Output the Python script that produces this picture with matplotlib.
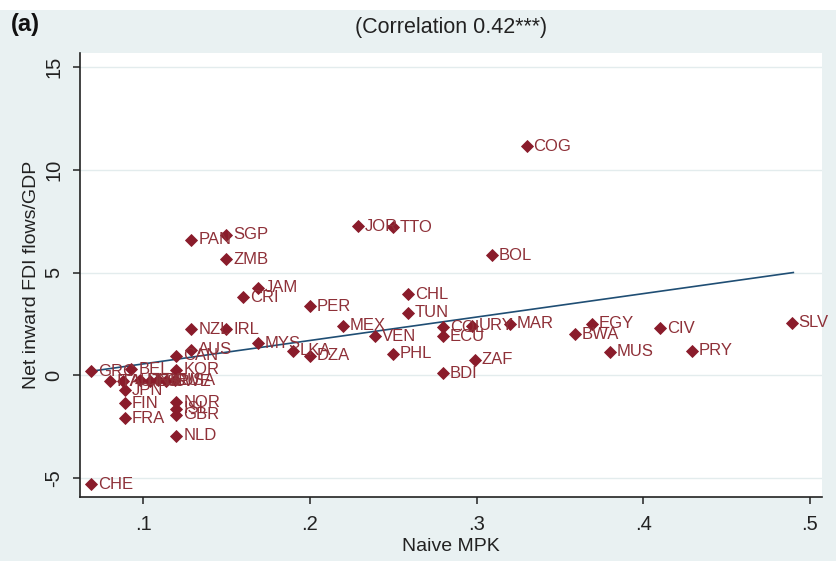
import matplotlib
matplotlib.use("Agg")
import matplotlib.pyplot as plt
from matplotlib.patches import Rectangle

# ---------------- data ----------------
countries = ["CHE", "GRC", "ITA", "AUT", "JPN", "FIN", "FRA", "BEL", "DNK", "ESP",
             "DEU", "SWE", "USA", "KOR", "CAN", "AUS", "NZL", "IRL", "NOR", "ISL",
             "GBR", "NLD", "PAN", "SGP", "ZMB", "CRI", "JAM", "MYS", "LKA", "DZA",
             "PER", "MEX", "VEN", "JOR", "TTO", "PHL", "CHL", "TUN", "COL", "ECU",
             "BDI", "URY", "ZAF", "BOL", "COG", "MAR", "BWA", "EGY", "MUS", "CIV",
             "PRY", "SLV"]
naive_mpk = [0.069, 0.069, 0.080, 0.088, 0.089, 0.089, 0.089, 0.093, 0.098, 0.104,
             0.109, 0.114, 0.119, 0.120, 0.120, 0.129, 0.129, 0.150, 0.120, 0.120,
             0.120, 0.120, 0.129, 0.150, 0.150, 0.160, 0.169, 0.169, 0.190, 0.200,
             0.200, 0.220, 0.239, 0.229, 0.250, 0.250, 0.259, 0.259, 0.280, 0.280,
             0.280, 0.297, 0.299, 0.309, 0.330, 0.320, 0.359, 0.369, 0.380, 0.410,
             0.429, 0.489]
fdi_gdp = [-5.30, 0.19, -0.30, -0.28, -0.72, -1.35, -2.10, 0.30, -0.25, -0.30,
           -0.24, -0.30, -0.25, 0.28, 0.95, 1.25, 2.25, 2.25, -1.30, -1.62,
           -1.92, -2.95, 6.60, 6.85, 5.65, 3.80, 4.25, 1.55, 1.20, 0.95,
           3.35, 2.40, 1.90, 7.25, 7.20, 1.05, 3.95, 3.05, 2.35, 1.90,
           0.10, 2.40, 0.75, 5.85, 11.15, 2.50, 2.00, 2.50, 1.15, 2.30,
           1.20, 2.55]

# fitted line end points
fit_x = [0.069, 0.490]
fit_y = [0.20, 5.00]

x_ticks = [0.1, 0.2, 0.3, 0.4, 0.5]
x_tick_labels = [".1", ".2", ".3", ".4", ".5"]
y_ticks = [-5, 0, 5, 10, 15]
y_tick_labels = ["-5", "0", "5", "10", "15"]

title_text = "(Correlation 0.42***)"
panel_text = "(a)"
x_label = "Naive MPK"
y_label = "Net inward FDI flows/GDP"

# ---------------- style ----------------
BG = "#e9f1f2"
MARKER = "#8a1c2b"
LABEL = "#8e3038"
LINE = "#1f4e74"
FONT = ["Liberation Sans", "DejaVu Sans"]
plt.rcParams["font.family"] = FONT

W, H = 836, 561
fig = plt.figure(figsize=(W / 100, H / 100), dpi=100, facecolor=BG)
# thin white strip at top of the scan
fig.patches.append(Rectangle((0, 1 - 10 / H), 1, 10 / H, transform=fig.transFigure,
                             facecolor="white", edgecolor="none", zorder=-10))

L, R, T, B = 80, 822, 53, 497
ax = fig.add_axes([L / W, 1 - B / H, (R - L) / W, (B - T) / H])
ax.set_facecolor("white")

ax.set_xlim(0.0622, 0.5072)
ax.set_ylim(-5.92, 15.68)

for yv in y_ticks:
    ax.axhline(yv, color="#e3eced", lw=1.0, zorder=0)

ax.plot(naive_mpk, fdi_gdp, linestyle="none", marker="D", markersize=5.8,
        color=MARKER, markeredgecolor=MARKER, markeredgewidth=0.6, zorder=3)
for c, xv, yv in zip(countries, naive_mpk, fdi_gdp):
    ax.annotate(c, (xv, yv), xytext=(5, 0), textcoords="offset points",
                ha="left", va="center", fontsize=12, color=LABEL,
                annotation_clip=False, zorder=4)

ax.plot(fit_x, fit_y, color=LINE, lw=1.2, zorder=2)

for s in ["top", "right"]:
    ax.spines[s].set_visible(False)
for s in ["left", "bottom"]:
    ax.spines[s].set_color("#222222")
    ax.spines[s].set_linewidth(1.2)

ax.set_xticks(x_ticks)
ax.set_xticklabels(x_tick_labels, fontsize=14.5)
ax.set_yticks(y_ticks)
ax.set_yticklabels(y_tick_labels, fontsize=14.5, rotation=90, va="center")
ax.tick_params(axis="both", direction="out", length=5, width=1.1,
               color="#222222", labelcolor="#222222")
ax.tick_params(axis="x", pad=8)
ax.tick_params(axis="y", pad=7)

ax.set_xlabel(x_label, fontsize=14, color="#222222", labelpad=3)
ax.set_ylabel(y_label, fontsize=14, color="#222222", labelpad=3)

fig.text((L + R) / 2 / W, 1 - 28 / H, title_text, ha="center", va="center",
         fontsize=15.5, color="#222222")
fig.text(11 / W, 1 - 25 / H, panel_text, ha="left", va="center",
         fontsize=17, color="#111111", fontweight="bold")

fig.savefig("out.png", dpi=100, facecolor=BG)
